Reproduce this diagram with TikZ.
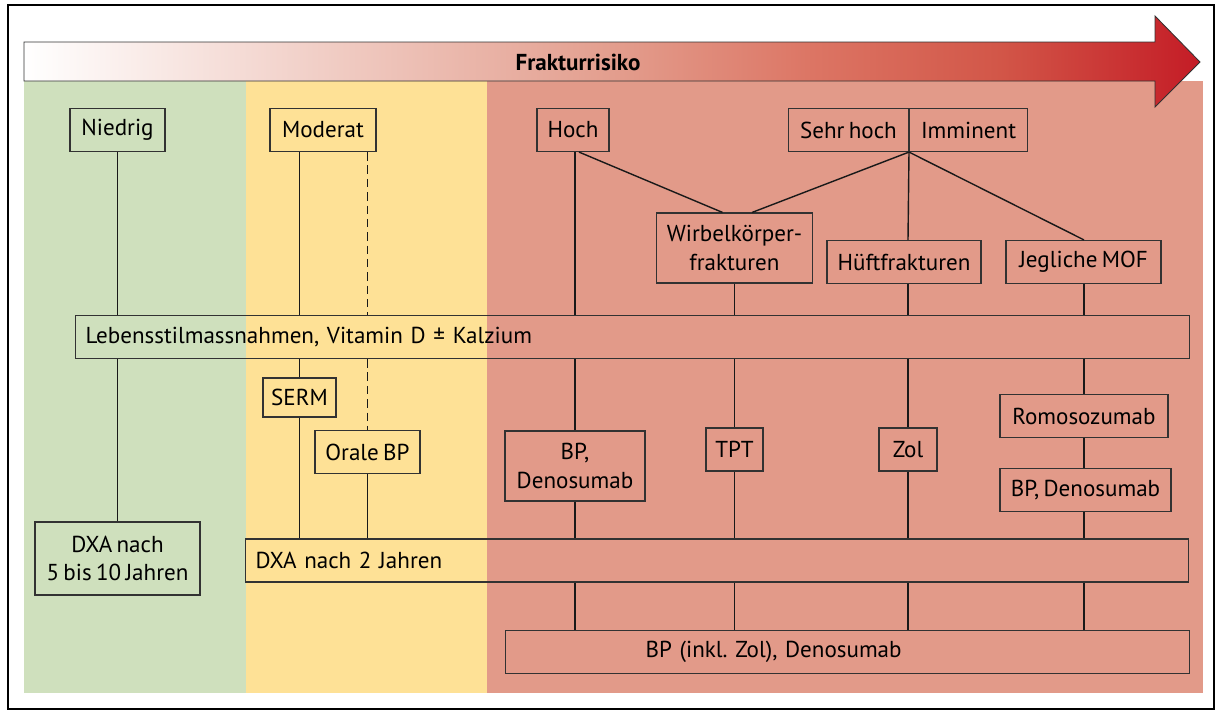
\documentclass[tikz,border=0pt]{standalone}
\usepackage{fontspec}
\setmainfont{PT Sans}[WordSpace=0.7]
\usepackage{tikz}
\frenchspacing
\definecolor{lowgreen}{RGB}{207,224,189}
\definecolor{modyellow}{RGB}{254,225,150}
\definecolor{highred}{RGB}{226,154,137}
\definecolor{arrowmid}{RGB}{227,158,142}
\definecolor{arrowa}{RGB}{220,117,100}
\definecolor{arrowb}{RGB}{210,86,72}
\definecolor{arrowend}{RGB}{196,28,38}
\definecolor{edgegray}{RGB}{50,50,50}
\pgfdeclarehorizontalshading{riskgrad}{100bp}{color(0bp)=(white); color(25bp)=(white);
  color(50bp)=(arrowmid); color(58.5bp)=(arrowa); color(66.5bp)=(arrowb);
  color(75bp)=(arrowend); color(100bp)=(arrowend)}
\tikzset{
  box/.style={
    draw=edgegray, line width=0.8pt, inner xsep=3pt, inner ysep=2pt,
    minimum height=1.075cm, align=center,
    font=\fontsize{16.4}{20}\selectfont
  }}
\tikzset{
  bar/.style={box, inner xsep=0.25cm, align=left, anchor=west}}
\tikzset{
  link/.style={draw=black!90, line width=1pt}}

\begin{document}
\begin{tikzpicture}[x=0.025cm,y=-0.025cm]
    \useasboundingbox (0,0) rectangle (1218,711);
    % risk bands
    \fill[lowgreen] (24,81) rectangle (246,693);
    \fill[modyellow] (246,81) rectangle (487,693);
    \fill[highred] (487,81) rectangle (1203,693);
    \draw[edgegray,line width=0.6pt,shading=riskgrad]
	(24,42) -- (1155,42) -- (1155,16) -- (1200,62) -- (1155,107) -- (1155,81) -- (24,81) -- cycle;
    \node[font=\bfseries\fontsize{16.4}{20}\selectfont] (risk) at (578,62) {Frakturrisiko};
    \draw[line width=0.9pt] (8,5) rectangle (1214,709);
    \begin{scope}
        \node[box,minimum width=2.375cm] (niedrig) at (117.5,130) {Niedrig};
        \node[box,minimum width=2.65cm] (moderat) at (323,130) {Moderat};
        \node[box,minimum width=1.8cm] (hoch) at (573,130) {Hoch};
        \node[box,minimum width=3cm,anchor=east] (sehr) at (909,130) {Sehr hoch};
        \node[box,minimum width=2.95cm,anchor=west] (imminent) at (909,130) {Imminent};
        \node[box,minimum width=3.9cm,minimum height=1.75cm] (wirbel) at (734.5,248) {Wirbelkörper-\\frakturen};
        \node[box,minimum width=3.85cm] (hueft) at (904,262) {Hüftfrakturen};
        \node[box,minimum width=3.875cm] (mof) at (1083.5,262) {Jegliche MOF};
    \end{scope}
    \node[bar,text width=27.35cm] (leben) at (75,337) {Lebensstilmassnahmen, Vitamin D ± Kalzium};
    \begin{scope}
        \node[box,minimum width=1.825cm,minimum height=0.975cm] (serm) at (299.5,397.5) {SERM};
        \node[box,minimum width=2.625cm] (orale) at (367.5,452) {Orale BP};
        \node[box,minimum width=3.5cm,minimum height=1.75cm] (bpden) at (575,466) {BP,\\Denosumab};
        \node[box,minimum width=1.425cm] (tpt) at (734.5,449.5) {TPT};
        \node[box,minimum width=1.45cm] (zol) at (908,449.5) {Zol};
        \node[box,minimum width=4.2cm] (romo) at (1084,416) {Romosozumab};
        \node[box,minimum width=4.275cm] (bpden2) at (1085.5,490) {BP, Denosumab};
        \node[box,minimum width=4.125cm,minimum height=1.825cm] (dxalong) at (117.5,558.5) {DXA nach\\5 bis 10 Jahren};
    \end{scope}
    \node[bar,text width=23.075cm] (dxashort) at (245,560.5) {DXA nach 2 Jahren};
    \node[bar,text width=16.6cm] (bpall) at (505,652) {\hspace*{3.25cm}BP (inkl. Zol), Denosumab};
    % niedrig
    \draw[link] (niedrig.south) -- (niedrig |- leben.north);
    \draw[link] (niedrig |- leben.south) -- (dxalong.north);
    % moderat
    \draw[link] (serm |- moderat.south) -- (serm |- leben.north);
    \draw[link] (serm |- leben.south) -- (serm.north);
    \draw[link] (serm.south) -- (serm |- dxashort.north);
    \draw[link,dash pattern=on 6pt off 3.5pt] (orale |- moderat.south) -- (orale |- leben.north);
    \draw[link,dash pattern=on 6pt off 3.5pt] (orale |- leben.south) -- (orale.north);
    \draw[link] (orale.south) -- (orale |- dxashort.north);
    % hoch, sehr hoch
    \draw[link] ([xshift=0.15cm]hoch.south) -- ([xshift=-0.3cm]wirbel.north);
    \draw[link] (sehr.south east) -- ([xshift=0.44cm]wirbel.north);
    \draw[link] (sehr.south east) -- (zol |- hueft.north);
    \draw[link] (sehr.south east) -- (romo |- mof.north);
    \draw[link] (bpden |- hoch.south) -- (bpden |- leben.north);
    \draw[link] (tpt |- wirbel.south) -- (tpt |- leben.north);
    \draw[link] (zol |- hueft.south) -- (zol |- leben.north);
    \draw[link] (romo |- mof.south) -- (romo |- leben.north);
    \foreach \col in {bpden,tpt,zol,romo}
        \draw[link] (\col |- leben.south) -- (\col.north);
    \foreach \col in {bpden,tpt,zol}
        \draw[link] (\col.south) -- (\col |- dxashort.north);
    \draw[link] (romo.south) -- (romo |- bpden2.north);
    \draw[link] (romo |- bpden2.south) -- (romo |- dxashort.north);
    \foreach \col in {bpden,tpt,zol,romo}
        \draw[link] (\col |- dxashort.south) -- (\col |- bpall.north);
\end{tikzpicture}
\end{document}
